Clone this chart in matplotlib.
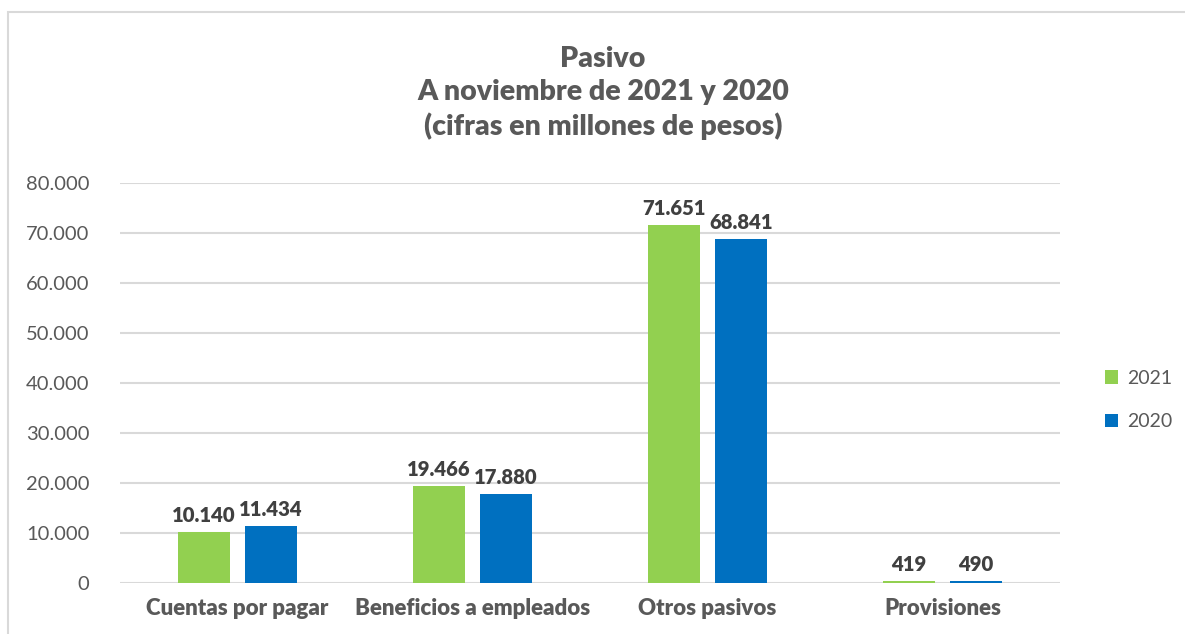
import numpy as np
import matplotlib
matplotlib.use('Agg')
import matplotlib.pyplot as plt
from matplotlib.patches import Rectangle

plt.rcParams['font.family'] = ['Lato', 'DejaVu Sans']

categorias = ['Cuentas por pagar', 'Beneficios a empleados', 'Otros pasivos', 'Provisiones']
valores_2021 = [10140, 19466, 71651, 419]
valores_2020 = [11434, 17880, 68841, 490]
etiquetas_y = ['0', '10.000', '20.000', '30.000', '40.000', '50.000', '60.000', '70.000', '80.000']

verde = '#92D050'
azul = '#0070C0'
gris_txt = '#595959'

fig = plt.figure(figsize=(11.85, 6.34), dpi=100)
# plot area en pixeles: x 120-1060, y 183-583
ax = fig.add_axes([120/1185, 1 - 583/634, 940/1185, 400/634])

# borde del grafico
fig.patches.append(Rectangle((8/1185, -0.1), 1.2, 1 - 12/634 + 0.1, transform=fig.transFigure,
                             fill=False, edgecolor='#D9D9D9', linewidth=1.5))

x = np.arange(len(categorias))
ancho = 0.221
sep = 0.064
b1 = ax.bar(x - (ancho + sep) / 2, valores_2021, ancho, color=verde, label='2021', zorder=3)
b2 = ax.bar(x + (ancho + sep) / 2, valores_2020, ancho, color=azul, label='2020', zorder=3)

def fmt(v):
    return '{:,}'.format(v).replace(',', '.')

for barras in (b1, b2):
    for b in barras:
        v = b.get_height()
        ax.annotate(fmt(int(v)), (b.get_x() + b.get_width() / 2, v),
                    xytext=(0, 5), textcoords='offset points', ha='center', va='bottom',
                    fontsize=14.6, fontweight='heavy', color='#404040', zorder=4)

ax.set_xlim(-0.5, len(categorias) - 0.5)
ax.set_ylim(0, 80000)
ax.set_yticks(np.arange(0, 80001, 10000))
ax.set_yticklabels(etiquetas_y, fontsize=14.5, color=gris_txt)
ax.set_xticks(x)
ax.set_xticklabels(categorias, fontsize=16, fontweight='heavy', color=gris_txt)
ax.tick_params(axis='both', length=0)
ax.tick_params(axis='y', pad=22)
ax.tick_params(axis='x', pad=11)
for s in ax.spines.values():
    s.set_visible(False)
ax.grid(axis='y', color='#D9D9D9', linewidth=1.5, zorder=0)
ax.set_axisbelow(True)

fig.text(603/1185, 1 - 93/634, 'Pasivo\nA noviembre de 2021 y 2020\n(cifras en millones de pesos)',
         ha='center', va='center', fontsize=20.5, fontweight='heavy', color=gris_txt, linespacing=1.35)

leg = fig.legend(handles=[b1, b2], labels=['2021', '2020'], loc='center left',
                 bbox_to_anchor=(1087/1185, 1 - 400/634), frameon=False, fontsize=14,
                 handlelength=0.7, handleheight=0.7, labelspacing=1.35, handletextpad=0.45)
for t in leg.get_texts():
    t.set_color(gris_txt)

fig.savefig('out.png', dpi=100)
